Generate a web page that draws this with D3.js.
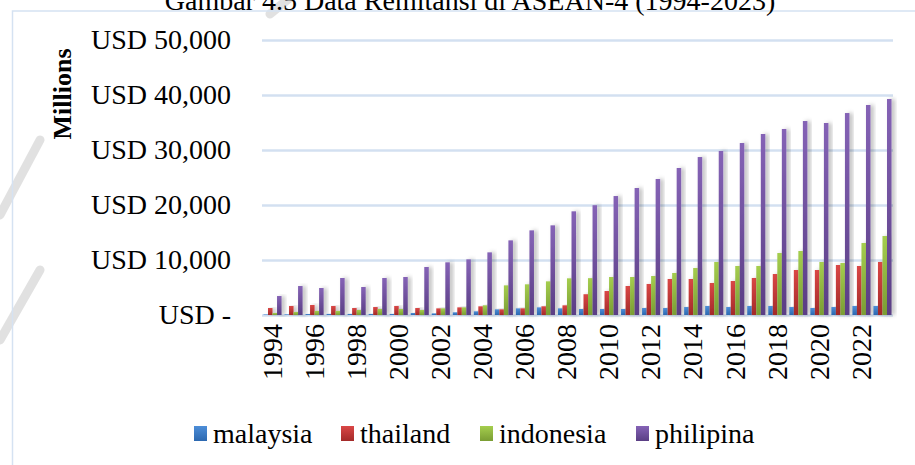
<!DOCTYPE html>
<html>
<head>
<meta charset="utf-8">
<script src="https://cdn.jsdelivr.net/npm/d3@7"></script>
<style>
  body { margin: 0; background: #fff; }
  text { font-family: 'Liberation Serif', 'Times New Roman', serif; fill: #000; }
  .domain { display: none; }
</style>
</head>
<body>
<div id="container"></div>
<script>
const years = d3.range(1994, 2024).map(String);
const seriesNames = ['malaysia', 'thailand', 'indonesia', 'philipina'];

// values in USD millions
const malaysia = [100, 120, 180, 200, 200, 200, 200, 360, 300, 490, 670, 1030, 1210, 1390, 1210,
  1090, 1090, 1090, 1270, 1270, 1450, 1640, 1450, 1640, 1640, 1450, 1270, 1450, 1640, 1640];
const thailand = [1270, 1640, 1820, 1640, 1270, 1450, 1640, 1270, 1210, 1390, 1580, 1030, 1210, 1580, 1760,
  3780, 4360, 5270, 5640, 6550, 6550, 5820, 6180, 6730, 7450, 8180, 8180, 9090, 8910, 9640];
const indonesia = [360, 550, 730, 730, 910, 1090, 1090, 910, 1210, 1390, 1760, 5390, 5580, 6120, 6670,
  6700, 6910, 6910, 7090, 7640, 8550, 9640, 8910, 8910, 11270, 11640, 9640, 9450, 13090, 14360];
const philipina = [3450, 5270, 4910, 6730, 5090, 6730, 6910, 8730, 9580, 10120, 11390, 13570, 15390, 16300, 18850,
  19960, 21630, 23090, 24730, 26730, 28720, 29820, 31270, 32910, 33820, 35270, 34910, 36720, 38180, 39270];

const yTicks = [0, 10000, 20000, 30000, 40000, 50000];
const xTickYears = years.filter((d, i) => i % 2 === 0);

const title = 'Gambar 4.5 Data Remitansi di ASEAN-4 (1994-2023)';

const svgWidth = 915;
const svgHeight = 465;
const plotLeft = 262;
const plotRight = 893;
const plotTop = 40;
const plotBottom = 315;

const colors = {
  malaysia: ['#4d8ed8', '#2c68b0'],
  thailand: ['#da4746', '#a32a29'],
  indonesia: ['#a5ce4e', '#7a9d33'],
  philipina: ['#8563b6', '#5a3e84']
};

const table = years.map((y, i) => ({
  year: y,
  malaysia: malaysia[i],
  thailand: thailand[i],
  indonesia: indonesia[i],
  philipina: philipina[i]
}));

// SVG
const svg = d3
  .select('#container')
  .append('svg')
  .attr('width', svgWidth)
  .attr('height', svgHeight);

const defs = svg.append('defs');

seriesNames.forEach(name => {
  const g = defs
    .append('linearGradient')
    .attr('id', `grad-${name}`)
    .attr('x1', 0).attr('y1', 0).attr('x2', 0).attr('y2', 1);
  g.append('stop').attr('offset', '0%').attr('stop-color', colors[name][0]);
  g.append('stop').attr('offset', '100%').attr('stop-color', colors[name][1]);
});

const shadow = defs
  .append('filter')
  .attr('id', 'shadow')
  .attr('x', '-50%').attr('y', '-10%')
  .attr('width', '250%').attr('height', '120%');
shadow.append('feDropShadow')
  .attr('dx', 3).attr('dy', 0)
  .attr('stdDeviation', 2)
  .attr('flood-color', '#000')
  .attr('flood-opacity', 0.28);

// faint watermark strokes
const wm = svg.append('g').attr('stroke', '#bdbdbd').attr('stroke-opacity', 0.45)
  .attr('stroke-width', 9).attr('fill', 'none').attr('stroke-linecap', 'round');
wm.append('path').attr('d', 'M0,215 L40,140');
wm.append('path').attr('d', 'M0,340 L40,270');
wm.append('path').attr('d', 'M270,14 L292,-4');

// Frame
svg.append('rect')
  .attr('x', 12.5).attr('y', 11)
  .attr('width', 1000).attr('height', 1000)
  .attr('fill', 'none')
  .attr('stroke', '#d5e2f2')
  .attr('stroke-width', 1.5);

// Title
svg.append('text')
  .attr('x', 470)
  .attr('y', 10)
  .attr('text-anchor', 'middle')
  .style('font-size', '28px')
  .text(title);

// Y-AXIS
const yScale = d3.scaleLinear().domain([0, 50000]).range([plotBottom, plotTop]);

svg.append('g')
  .attr('transform', `translate(${plotLeft}, 0)`)
  .call(d3.axisLeft(yScale).tickValues(yTicks).tickSize(-(plotRight - plotLeft)).tickFormat(''))
  .call(g => g.selectAll('.tick line')
    .attr('stroke', '#d3e0f1')
    .attr('stroke-width', 2.5));

svg.append('g')
  .attr('transform', `translate(${plotLeft}, 0)`)
  .call(d3.axisLeft(yScale)
    .tickValues(yTicks)
    .tickSize(0)
    .tickPadding(31)
    .tickFormat(d => (d === 0 ? 'USD -' : `USD ${d3.format(',')(d)}`)))
  .call(g => g.selectAll('text').style('font-size', '28px').attr('font-family', null));

svg.append('text')
  .attr('transform', 'translate(62, 94) rotate(-90)')
  .attr('text-anchor', 'middle')
  .attr('dominant-baseline', 'central')
  .style('font-size', '26px')
  .style('font-weight', 'bold')
  .text('Millions');

// X-AXIS
const xScale = d3
  .scaleBand()
  .domain(years)
  .range([plotLeft, plotRight])
  .paddingInner(0.14)
  .paddingOuter(0.07);

const xInner = d3.scaleBand().domain(seriesNames).range([0, xScale.bandwidth()]);

svg.append('g')
  .attr('transform', `translate(0, ${plotBottom})`)
  .call(d3.axisBottom(xScale).tickValues(xTickYears).tickSize(0).tickPadding(0))
  .call(g => g.selectAll('text')
    .attr('font-family', null)
    .style('font-size', '28px')
    .attr('transform', 'rotate(-90)')
    .attr('x', -9)
    .attr('y', 0)
    .attr('dy', '0.33em')
    .attr('text-anchor', 'end'));

// Bars
const groups = svg.append('g')
  .selectAll('g')
  .data(table)
  .enter()
  .append('g')
  .attr('transform', d => `translate(${xScale(d.year)}, 0)`);

groups.selectAll('rect')
  .data(d => seriesNames.map(name => ({ name, value: d[name] })))
  .enter()
  .append('rect')
  .attr('x', d => xInner(d.name))
  .attr('y', d => yScale(d.value))
  .attr('width', xInner.bandwidth())
  .attr('height', d => plotBottom - yScale(d.value))
  .attr('fill', d => `url(#grad-${d.name})`)
  .attr('filter', 'url(#shadow)');

// Legend
const legendX = [194, 341, 480, 636];
const legend = svg.append('g')
  .selectAll('g')
  .data(seriesNames)
  .enter()
  .append('g')
  .attr('transform', (d, i) => `translate(${legendX[i]}, 0)`);

legend.append('rect')
  .attr('x', 0).attr('y', 426)
  .attr('width', 13).attr('height', 15)
  .attr('fill', d => `url(#grad-${d})`);

legend.append('text')
  .attr('x', 19)
  .attr('y', 443)
  .style('font-size', '28px')
  .text(d => d);
</script>
</body>
</html>
